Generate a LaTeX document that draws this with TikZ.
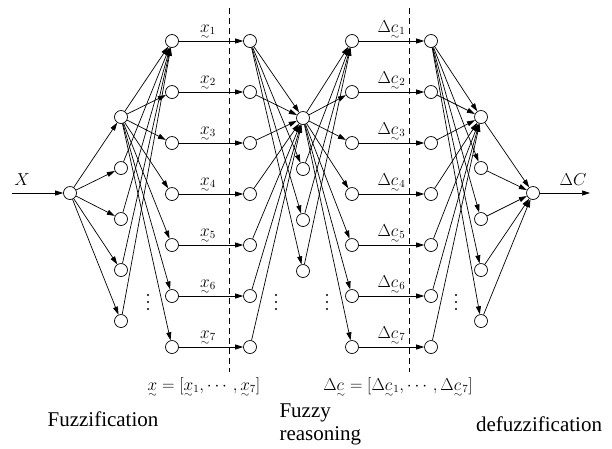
\documentclass[tikz,border=0pt]{standalone}
\usepackage{amsmath}
\usepackage{fontspec}
\setmainfont{Liberation Serif}
\usetikzlibrary{arrows.meta, positioning}
\newcommand{\fz}[1]{\smash[b]{\mathord{\ooalign{$#1$\cr
  \hfil\raisebox{-1ex}{$\scriptstyle\sim$}\hfil\cr}}}}

\begin{document}
\begin{tikzpicture}[
  x=1pt, y=-1pt,
  every node/.style={font=\fontsize{16}{18}\selectfont},
  neuron/.style={circle, draw, line width=0.7pt, minimum size=13pt,
                 inner sep=0pt},
  arr/.style={-{Triangle[length=8pt, width=5pt]}, line width=0.7pt},
  sep/.style={dash pattern=on 6pt off 4pt, line width=0.7pt},
  lbl/.style={above, inner sep=1pt, yshift=5pt},
  stage/.style={font=\fontsize{21}{23}\selectfont, align=left},
]
\useasboundingbox (0,0) rectangle (612,448);

% ── neurons ──
\node[neuron] (a) at (70,193) {};
\foreach \i in {1,...,5} {
  \node[neuron] (b\i) at (121,{117+51*(\i-1)}) {};
  \node[neuron] (h\i) at (481,{117+51*(\i-1)}) {};
}
\foreach \i in {1,...,7} {
  \node[neuron] (c\i) at (172,{41+51*(\i-1)}) {};
  \node[neuron] (d\i) at (250,{41+51*(\i-1)}) {};
  \node[neuron] (f\i) at (352,{41+51*(\i-1)}) {};
  \node[neuron] (g\i) at (431,{41+51*(\i-1)}) {};
}
\foreach \i in {1,...,4}
  \node[neuron] (e\i) at (303,{118+51*(\i-1)}) {};
\node[neuron] (o) at (533,193) {};
\coordinate (in)  at (12,193);
\coordinate (out) at (590,193);

% ── fuzzification ──
\draw[arr] (in) -- (a);
\foreach \i in {1,...,5} \draw[arr] (a) -- (b\i);
\foreach \i in {1,...,7} \draw[arr] (b1) -- (c\i);
\foreach \i in {2,...,5} \draw[arr] (b\i) -- (c1);
\foreach \i in {1,...,7}
  \draw[arr] (c\i) -- node[lbl, xshift=-3pt] {$\fz{x}_{\i}$} (d\i);

% ── fuzzy reasoning ──
\foreach \i in {1,...,4} \draw[arr] (d1) -- (e\i);
\foreach \i in {2,...,7} \draw[arr] (d\i) -- (e1);
\foreach \i in {1,...,7} \draw[arr] (e1) -- (f\i);
\foreach \i in {2,...,4} \draw[arr] (e\i) -- (f1);
\foreach \i in {1,...,7}
  \draw[arr] (f\i) -- node[lbl] {$\Delta\fz{c}_{\i}$} (g\i);

% ── defuzzification ──
\foreach \i in {1,...,5} \draw[arr] (g1) -- (h\i);
\foreach \i in {2,...,7} \draw[arr] (g\i) -- (h1);
\foreach \i in {1,...,5} \draw[arr] (h\i) -- (o);
\draw[arr] (o) -- (out);

% separators and dots
\draw[sep] (229,8) -- (229,372);
\draw[sep] (409,8) -- (409,372);
\foreach \x in {148,276,327,456}
  \foreach \y in {295,302,309}
    \fill (\x,\y) circle (1.1pt);

% ── labels ──
\node (X)  at (22,180)  {$X$};
\node (dC) at (573,180) {$\Delta C$};
\node (xvec) at (204,386) {$\fz{x}=[\fz{x}_1,\cdots,\fz{x}_7]$};
\node (cvec) at (398,386) {$\Delta\fz{c}=[\Delta\fz{c}_1,\cdots,\Delta\fz{c}_7]$};
\node[stage] (fuzz) at (103,419) {Fuzzification};
\node[stage, anchor=west] (reas) at (276,424) {Fuzzy\\reasoning};
\node[stage] (defuzz) at (539,424) {defuzzification};

\end{tikzpicture}
\end{document}
